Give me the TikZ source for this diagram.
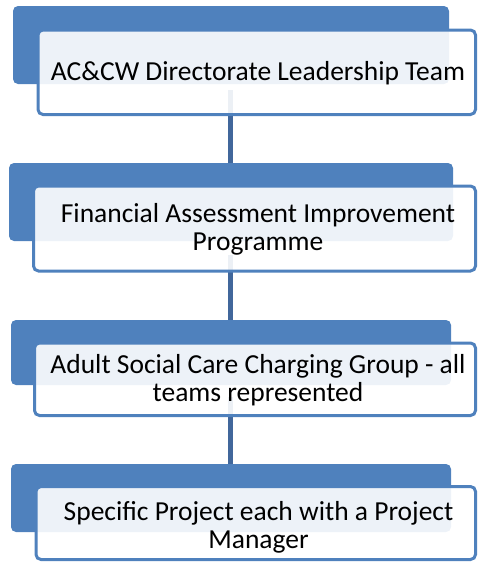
\documentclass[tikz,border=0pt]{standalone}
\usepackage{fontspec}
\setmainfont{Carlito}
\definecolor{accent}{HTML}{4F81BD}
\definecolor{linkblue}{HTML}{41679B}
\begin{document}
\begin{tikzpicture}[x=1pt,y=-1pt,
  backbox/.style={draw=none,fill=accent,rounded corners=5pt,inner sep=0pt,outer sep=0pt,anchor=north west},
  frontbox/.style={draw=accent,line width=3pt,fill=white,fill opacity=0.9,rounded corners=5pt,inner sep=0pt,outer sep=0pt,anchor=north west},
  label/.style={align=center,inner sep=0pt,font=\fontsize{27.5}{28}\selectfont,text=black},
  link/.style={draw=linkblue,line width=4.5pt}]
\useasboundingbox (0,0) rectangle (477,562);

% back panels
\node[backbox,minimum width=436pt,minimum height=78pt] (back1) at (13,6) {};
\node[backbox,minimum width=444pt,minimum height=78pt] (back2) at (9,163) {};
\node[backbox,minimum width=440pt,minimum height=65pt] (back3) at (11,320) {};
\node[backbox,minimum width=440pt,minimum height=68pt] (back4) at (11,464) {};

% connectors, drawn before the front panels so they show through faintly
\coordinate (s1) at (230.5,90);
\coordinate (s2) at (230.5,255);
\coordinate (s3) at (230.5,397);
\draw[link] (s1) -- (s1 |- back2.north);
\draw[link] (s2) -- (s2 |- back3.north);
\draw[link] (s3) -- (s3 |- back4.north);

% front panels
\node[frontbox,minimum width=437.5pt,minimum height=84.5pt] (front1) at (38,30) {};
\node[frontbox,minimum width=442pt,minimum height=85pt] (front2) at (33.5,186) {};
\node[frontbox,minimum width=441pt,minimum height=72.5pt] (front3) at (34.5,343) {};
\node[frontbox,minimum width=439.5pt,minimum height=73pt] (front4) at (36,486.5) {};

% texts
\node[label,anchor=base] (t1) at (258,80) {AC\&CW Directorate Leadership Team};
\node[label] (t2) at (258,229) {Financial Assessment Improvement\\Programme};
\node[label] (t3) at (258,380) {Adult Social Care Charging Group - all\\teams represented};
\node[label] (t4) at (258.5,527) {Specific Project each with a Project\\Manager};
\end{tikzpicture}
\end{document}
